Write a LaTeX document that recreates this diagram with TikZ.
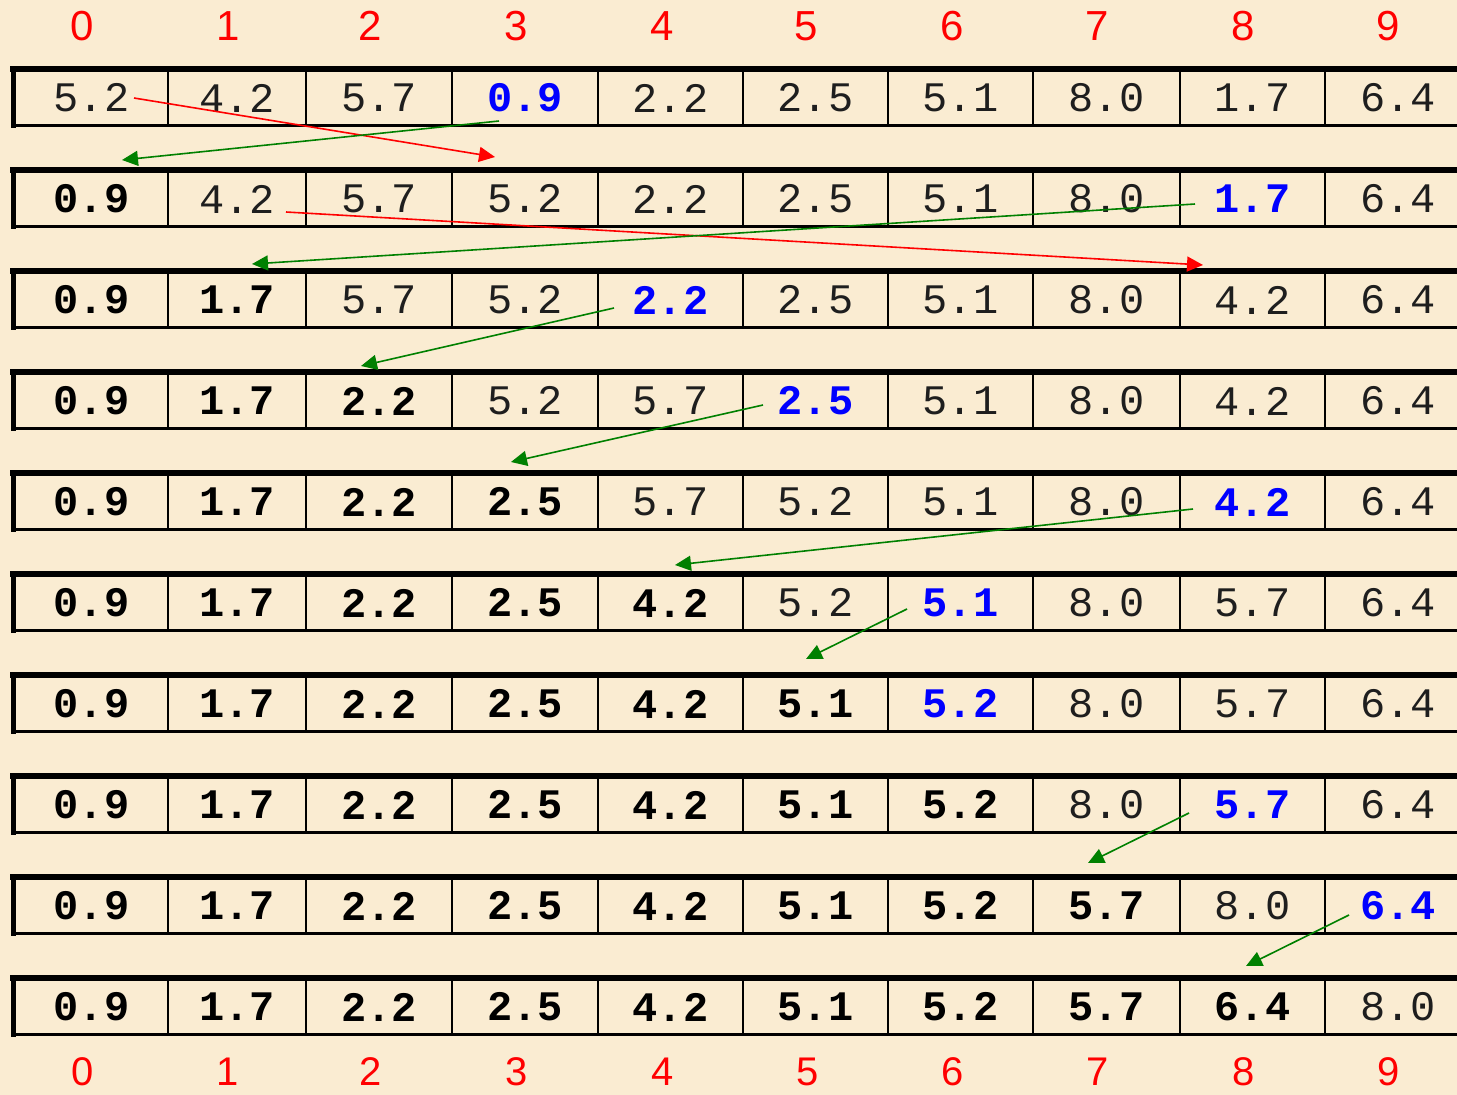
\documentclass[tikz,border=0pt]{standalone}
\usepackage{fontspec}
\setmainfont{Liberation Sans}
\newfontfamily\monof{Liberation Mono}
\usetikzlibrary{arrows.meta,calc}
\definecolor{bg}{RGB}{250,236,210}
\definecolor{arrgreen}{RGB}{0,128,0}
\definecolor{hiblue}{RGB}{0,0,255}
\definecolor{plain}{RGB}{30,30,30}
\begin{document}
\begin{tikzpicture}[x=1pt,y=-1pt,
  cellbox/.style={minimum height=55pt, inner sep=0pt, draw=black, line width=2.7pt,
    anchor=center, font=\monof\fontsize{42}{42}\selectfont},
  txt-n/.style={text=plain},
  txt-b/.style={text=black, font=\monof\bfseries\fontsize{42}{42}\selectfont},
  txt-h/.style={text=hiblue, font=\monof\bfseries\fontsize{42}{42}\selectfont},
  idx/.style={text=red, font=\fontsize{42}{42}\selectfont, inner sep=0pt},
  idxb/.style={idx, font=\fontsize{40}{40}\selectfont},
  arr/.style={line width=1.6pt, -{Triangle[length=16pt,width=15pt]}},
  redarr/.style={arr, draw=red},
  greenarr/.style={arr, draw=arrgreen}]
\path[use as bounding box, fill=bg] (0,0) rectangle (1457,1095);
\clip (0,0) rectangle (1457,1095);
% cells
\foreach \r/\lst in {
  0/{5.2/n,4.2/n,5.7/n,0.9/h,2.2/n,2.5/n,5.1/n,8.0/n,1.7/n,6.4/n},
  1/{0.9/b,4.2/n,5.7/n,5.2/n,2.2/n,2.5/n,5.1/n,8.0/n,1.7/h,6.4/n},
  2/{0.9/b,1.7/b,5.7/n,5.2/n,2.2/h,2.5/n,5.1/n,8.0/n,4.2/n,6.4/n},
  3/{0.9/b,1.7/b,2.2/b,5.2/n,5.7/n,2.5/h,5.1/n,8.0/n,4.2/n,6.4/n},
  4/{0.9/b,1.7/b,2.2/b,2.5/b,5.7/n,5.2/n,5.1/n,8.0/n,4.2/h,6.4/n},
  5/{0.9/b,1.7/b,2.2/b,2.5/b,4.2/b,5.2/n,5.1/h,8.0/n,5.7/n,6.4/n},
  6/{0.9/b,1.7/b,2.2/b,2.5/b,4.2/b,5.1/b,5.2/h,8.0/n,5.7/n,6.4/n},
  7/{0.9/b,1.7/b,2.2/b,2.5/b,4.2/b,5.1/b,5.2/b,8.0/n,5.7/h,6.4/n},
  8/{0.9/b,1.7/b,2.2/b,2.5/b,4.2/b,5.1/b,5.2/b,5.7/b,8.0/n,6.4/h},
  9/{0.9/b,1.7/b,2.2/b,2.5/b,4.2/b,5.1/b,5.2/b,5.7/b,6.4/b,8.0/n}} {
  \foreach \v/\s [count=\k from 0] in \lst {
    \pgfmathsetmacro\xl{{15,168,306,452,598,743,888,1033,1180,1325,1471}[\k]}
    \pgfmathsetmacro\xr{{15,168,306,452,598,743,888,1033,1180,1325,1471}[\k+1]}
    \pgfmathsetmacro\xc{(\xl+\xr)/2}
    \pgfmathsetmacro\cw{\xr-\xl}
    \pgfmathsetmacro\yc{98+101*\r}
    \node[cellbox, txt-\s, minimum width=\cw pt] (c-\r-\k) at (\xc,\yc) {\v};
  }
  \draw[line width=6.5pt, line cap=rect] (c-\r-0.north west) -- (c-\r-9.north east);
  \draw[line width=5.5pt] (c-\r-0.north west) -- ([yshift=-1.3pt]c-\r-0.south west);
}
% index labels
\foreach \t [count=\k from 0] in {82,228,370,516,662,806,952,1097,1243,1388} {
  \node[idx] (t\k) at (\t,26) {\k};
}
\foreach \t [count=\k from 0] in {83,228,371,517,663,808,953,1098,1244,1389} {
  \node[idxb] (b\k) at (\t,1072) {\k};
}
% arrows
\draw[redarr] ($(c-0-0.center)+(42.5,0)$) -- ($(c-1-3.center)+(-30,-42)$);
\draw[greenarr] ($(c-0-3.center)+(-26,23)$) -- ($(c-1-0.center)+(30.5,-39)$);
\draw[redarr] ($(c-1-1.center)+(49,13)$) -- ($(c-2-8.center)+(-49.5,-35)$);
\draw[greenarr] ($(c-1-8.center)+(-57.5,5)$) -- ($(c-2-1.center)+(15,-36)$);
\draw[greenarr] ($(c-2-4.center)+(-56.5,8)$) -- ($(c-3-2.center)+(-18,-35)$);
\draw[greenarr] ($(c-3-5.center)+(-52.5,4)$) -- ($(c-4-3.center)+(-14,-40)$);
\draw[greenarr] ($(c-4-8.center)+(-59.5,7)$) -- ($(c-5-4.center)+(4.5,-38)$);
\draw[greenarr] ($(c-5-6.center)+(-53.5,6)$) -- ($(c-6-5.center)+(-9.5,-45)$);
\draw[greenarr] ($(c-7-8.center)+(-63.5,8)$) -- ($(c-8-7.center)+(-18.5,-43)$);
\draw[greenarr] ($(c-8-9.center)+(-49,9)$) -- ($(c-9-8.center)+(-6.5,-41)$);
\end{tikzpicture}
\end{document}
